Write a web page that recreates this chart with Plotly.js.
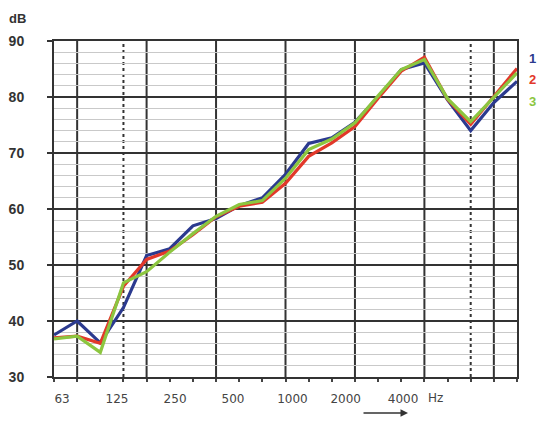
<!DOCTYPE html>
<html>
<head>
<meta charset="utf-8">
<script src="https://cdn.plot.ly/plotly-3.0.1.min.js"></script>
<style>html,body{margin:0;padding:0;background:#fff;}#chart{width:540px;height:421px;}</style>
</head>
<body>
<div id="chart"></div>
<script>
// 1/3-octave bands, 63 Hz ... 6300 Hz (index positions 0..20)
const bands = [63,80,100,125,160,200,250,315,400,500,630,800,1000,1250,1600,2000,2500,3150,4000,5000,6300];
const series1 = [37.5,40.0,36.1,42.4,51.7,52.9,57.0,58.3,60.6,62.0,66.2,71.7,72.7,75.5,80.0,84.9,86.1,79.5,74.0,79.0,82.8];
const series2 = [37.0,37.3,36.0,46.2,51.0,52.5,55.4,58.6,60.5,61.2,64.6,69.4,71.8,74.7,79.8,84.6,87.1,79.6,75.1,80.1,85.1];
const series3 = [36.8,37.3,34.4,46.8,48.8,52.3,55.6,58.7,60.8,61.5,65.5,70.6,72.5,75.4,80.2,84.9,86.7,79.7,75.6,79.9,84.3];
const seriesNames = ['1','2','3'];
const tickLabels = ['63','125','250','500','1000','2000','4000'];
const tickPos = [0.35,2.72,5.23,7.73,10.3,12.6,15.08];
const solidBands = [80,160,315,630,1250,2500,5000];
const dottedBands = [125,4000];

const colors = ['#2b3a8f','#e2382a','#8cc63f'];
const idx = bands.map((b,i)=>i);
const traces = [series1, series2, series3].map((s,k)=>({
  x: idx, y: s, type:'scatter', mode:'lines',
  line:{color: colors[k], width:3.2}, showlegend:false, name: seriesNames[k]
}));

const shapes = [];
solidBands.forEach(b=>{
  const i = bands.indexOf(b);
  shapes.push({type:'line', xref:'x', yref:'paper', x0:i, x1:i, y0:0, y1:1, line:{color:'#333', width:2}, layer:'below'});
});
dottedBands.forEach(b=>{
  const i = bands.indexOf(b);
  shapes.push({type:'line', xref:'x', yref:'paper', x0:i, x1:i, y0:0, y1:1, line:{color:'#333', width:2, dash:'dot'}, layer:'below'});
});

const annotations = [
  {xref:'paper', yref:'paper', x:-0.0778, y:1.068, xanchor:'center', yanchor:'middle', text:'<b>dB</b>', showarrow:false, font:{family:'Liberation Sans, Arial', size:13, color:'#333'}},
  {xref:'x', yref:'paper', x:(435-54)/23.15, y:-0.062, xanchor:'center', yanchor:'middle', text:'Hz', showarrow:false, font:{family:'DejaVu Sans', size:12, color:'#444'}},
  {xref:'x', yref:'paper', x:(408-54)/23.15, y:-0.107, ax:-46, ay:0, text:'', showarrow:true, arrowhead:2, arrowsize:1, arrowwidth:1.5, arrowcolor:'#333'}
];
const legY = [0.9465, 0.884, 0.819];
seriesNames.forEach((n,k)=>{
  annotations.push({xref:'paper', yref:'paper', x:1.0324, y:legY[k], xanchor:'center', yanchor:'middle', text:'<b>'+n+'</b>', showarrow:false,
    font:{family:'Liberation Sans, Arial', size:13, color:colors[k]}});
});

const layout = {
  width:540, height:421,
  margin:{l:54, r:23, t:41, b:43.5},
  paper_bgcolor:'#fff', plot_bgcolor:'#fff',
  xaxis:{
    range:[0,20], showgrid:false, zeroline:false,
    showline:true, mirror:true, linecolor:'#333', linewidth:2,
    tickmode:'array', tickvals:tickPos, ticktext:tickLabels, ticks:'',
    ticklabelstandoff:10,
    tickfont:{family:'DejaVu Sans', size:12, color:'#444'},
    minor:{tickmode:'array', tickvals:idx, ticks:'outside', ticklen:3, tickwidth:2, tickcolor:'#444', showgrid:false}
  },
  yaxis:{
    range:[30,90], tick0:30, dtick:10, showgrid:true, gridcolor:'#333', gridwidth:2,
    zeroline:false, showline:true, mirror:true, linecolor:'#333', linewidth:2,
    ticks:'outside', ticklen:5, tickwidth:2, tickcolor:'#333',
    ticklabelstandoff:20,
    tickfont:{family:'Liberation Sans, Arial', size:14, color:'#333', weight:'bold'},
    minor:{dtick:2, tick0:30, showgrid:true, gridcolor:'#c9c9c9', gridwidth:1, ticks:''}
  },
  shapes: shapes,
  annotations: annotations
};
Plotly.newPlot('chart', traces, layout, {staticPlot:true, displayModeBar:false});
</script>
</body>
</html>
